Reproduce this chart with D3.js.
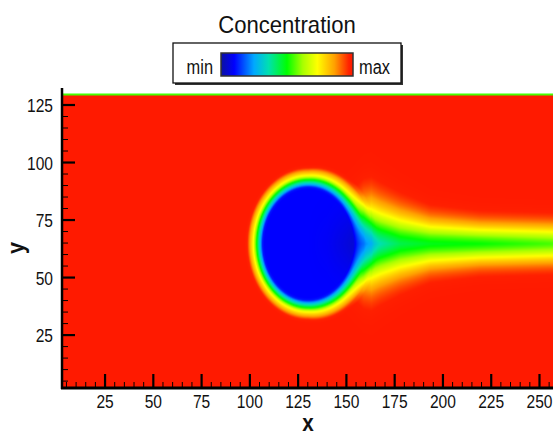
<!DOCTYPE html>
<html>
<head>
<meta charset="utf-8">
<script src="https://cdn.jsdelivr.net/npm/d3@7"></script>
<style>
  html, body { margin: 0; padding: 0; background: #fff; }
  svg { display: block; }
  text { font-family: "Liberation Sans", Arial, sans-serif; fill: #111; }
</style>
</head>
<body>
<svg id="chart" width="555" height="432"></svg>
<script>
// ---------------- data ----------------
const xTicks = [25, 50, 75, 100, 125, 150, 175, 200, 225, 250];
const yTicks = [25, 50, 75, 100, 125];
const xDomain = [2.7, 257];
const yDomain = [2, 130];
const xLabel = "x";
const yLabel = "y";
const legendTitle = "Concentration";
const legendLabels = ["min", "max"];

// droplet (min concentration) geometry, data units
const dropletCenter = [130.2, 64.7];
const dropletRadii = [23.6, 24.6];
const ringRearWidening = 0.35;

// concentration vs distance outside the droplet edge (data units)
const ringDistance = [-1, 0, 1.4, 3.1, 4.8, 6.6, 8, 9.5];
const ringConc     = [0.1, 0.12, 0.3, 0.5, 0.72, 0.85, 0.96, 1.0];

// wake behind the droplet: centre-line concentration and spread along x
const wakeX      = [130, 140, 150, 159, 163, 167.7, 178, 193.6, 219, 257];
const wakeCenter = [1.0, 0.92, 0.65, 0.33, 0.3, 0.36, 0.44, 0.48, 0.5, 0.55];
const wakeSpread = [1.7, 1.7, 1.8, 2.15, 2.2, 2.05, 1.75, 1.35, 1.15, 1.1];

// top wall film
const topFilmY = 129.1;
const topFilmConc = 0.55;

// colour map (Tecplot-like rainbow)
const cmapStops  = [0.0, 0.1, 0.25, 0.36, 0.5, 0.62, 0.73, 0.86, 0.97, 1.0];
const cmapColors = ["#0c12a0", "#0000ff", "#00a8ff", "#00e0b0", "#00ff00",
                    "#a8ff00", "#ffff00", "#ffa000", "#ff2000", "#ff1a00"];

// ---------------- layout ----------------
const plot = { left: 62, right: 553, top: 93.5, bottom: 388 };
const svg = d3.select("#chart");

const x = d3.scaleLinear().domain(xDomain).range([plot.left, plot.right]);
const y = d3.scaleLinear().domain(yDomain).range([plot.bottom, plot.top]);

const color = d3.scaleLinear().domain(cmapStops).range(cmapColors)
  .interpolate(d3.interpolateRgb).clamp(true);
const ringScale = d3.scaleLinear().domain(ringDistance).range(ringConc).clamp(true);
const wakeCenterScale = d3.scaleLinear().domain(wakeX).range(wakeCenter).clamp(true);
const wakeSpreadScale = d3.scaleLinear().domain(wakeX).range(wakeSpread).clamp(true);

function concentration(xv, yv) {
  if (yv > topFilmY) return topFilmConc;
  const dx = (xv - dropletCenter[0]) / dropletRadii[0];
  const dy = (yv - dropletCenter[1]) / dropletRadii[1];
  const r = Math.sqrt(dx * dx + dy * dy);
  const cosT = r > 0 ? dx / r : 0;
  let d = (r - 1) * 24;
  if (d > 0) d = d / (1 + ringRearWidening * Math.max(0, cosT));
  let c = ringScale(d);
  if (xv > wakeX[0]) {
    const A = 1 - wakeCenterScale(xv);
    const s = wakeSpreadScale(xv);
    const u = Math.abs(yv - dropletCenter[1]) / s;
    const q = 0.04 * u + 0.0148 * u * u;
    const cw = 1 - A * Math.exp(-q);
    c = c * cw;
  }
  return c;
}

// ---------------- field raster ----------------
const W = Math.round(plot.right - plot.left);
const H = Math.round(plot.bottom - plot.top);
const canvas = document.createElement("canvas");
canvas.width = W; canvas.height = H;
const ctx = canvas.getContext("2d");
const img = ctx.createImageData(W, H);
for (let j = 0; j < H; j++) {
  const yv = y.invert(plot.top + j + 0.5);
  for (let i = 0; i < W; i++) {
    const xv = x.invert(plot.left + i + 0.5);
    const col = d3.rgb(color(concentration(xv, yv)));
    const k = (j * W + i) * 4;
    img.data[k] = col.r; img.data[k + 1] = col.g; img.data[k + 2] = col.b; img.data[k + 3] = 255;
  }
}
ctx.putImageData(img, 0, 0);
svg.append("image")
  .attr("x", plot.left).attr("y", plot.top)
  .attr("width", W).attr("height", H)
  .attr("preserveAspectRatio", "none")
  .attr("href", canvas.toDataURL());

// ---------------- axes ----------------
const xMinor = d3.range(5, xDomain[1], 5).filter(v => v > xDomain[0] && !xTicks.includes(v));
const yMinor = d3.range(5, yDomain[1], 5).filter(v => v > yDomain[0] && !yTicks.includes(v));

const axG = svg.append("g");
axG.selectAll(".xm").data(xMinor).join("line")
  .attr("x1", d => x(d)).attr("x2", d => x(d))
  .attr("y1", plot.bottom).attr("y2", plot.bottom - 6)
  .attr("stroke", "#000").attr("stroke-width", 1);
axG.selectAll(".ym").data(yMinor).join("line")
  .attr("y1", d => y(d)).attr("y2", d => y(d))
  .attr("x1", plot.left).attr("x2", plot.left + 6)
  .attr("stroke", "#000").attr("stroke-width", 1);
axG.selectAll(".xM").data(xTicks).join("line")
  .attr("x1", d => x(d)).attr("x2", d => x(d))
  .attr("y1", plot.bottom).attr("y2", plot.bottom - 14)
  .attr("stroke", "#000").attr("stroke-width", 2.2);
axG.selectAll(".yM").data(yTicks).join("line")
  .attr("y1", d => y(d)).attr("y2", d => y(d))
  .attr("x1", plot.left).attr("x2", plot.left + 13)
  .attr("stroke", "#000").attr("stroke-width", 2.2);
axG.append("line").attr("x1", plot.left).attr("x2", plot.left)
  .attr("y1", 88).attr("y2", plot.bottom + 1)
  .attr("stroke", "#000").attr("stroke-width", 2.5);
axG.append("line").attr("x1", plot.left - 1).attr("x2", plot.right)
  .attr("y1", plot.bottom).attr("y2", plot.bottom)
  .attr("stroke", "#000").attr("stroke-width", 3);

const narrow = [];
axG.selectAll(".xl").data(xTicks).join("text")
  .attr("x", d => x(d)).attr("y", 408)
  .attr("text-anchor", "middle").attr("font-size", 19)
  .text(d => d).each(function () { narrow.push([this, 0.82]); });
axG.selectAll(".yl").data(yTicks).join("text")
  .attr("x", 53).attr("y", d => y(d) + 7)
  .attr("text-anchor", "end").attr("font-size", 19)
  .text(d => d).each(function () { narrow.push([this, 0.82]); });

const xt = svg.append("text").attr("x", 308).attr("y", 431)
  .attr("text-anchor", "middle").attr("font-size", 23).attr("font-weight", "bold")
  .text(xLabel);
narrow.push([xt.node(), 0.9]);
const yt = svg.append("text").attr("transform", "translate(24,248) rotate(-90)")
  .attr("text-anchor", "middle").attr("font-size", 24).attr("font-weight", "bold")
  .text(yLabel);
narrow.push([yt.node(), 0.9]);

// ---------------- legend ----------------
const lg = svg.append("g");
const tt = lg.append("text").attr("x", 287).attr("y", 33)
  .attr("text-anchor", "middle").attr("font-size", 24).text(legendTitle);
narrow.push([tt.node(), 0.92]);
lg.append("rect").attr("x", 175).attr("y", 45).attr("width", 228).attr("height", 40)
  .attr("fill", "#333");
lg.append("rect").attr("x", 173).attr("y", 43).attr("width", 228).attr("height", 40)
  .attr("fill", "#fff").attr("stroke", "#111").attr("stroke-width", 1.3);
const defs = svg.append("defs");
const grad = defs.append("linearGradient").attr("id", "cbar")
  .attr("x1", "0%").attr("x2", "100%").attr("y1", "0%").attr("y2", "0%");
grad.selectAll("stop").data(cmapStops).join("stop")
  .attr("offset", d => (d * 100) + "%")
  .attr("stop-color", (d, i) => cmapColors[i]);
lg.append("rect").attr("x", 221).attr("y", 53).attr("width", 132).attr("height", 23)
  .attr("fill", "url(#cbar)").attr("stroke", "#333").attr("stroke-width", 1.5);
const tmin = lg.append("text").attr("x", 213).attr("y", 74).attr("text-anchor", "end")
  .attr("font-size", 20).text(legendLabels[0]);
const tmax = lg.append("text").attr("x", 359).attr("y", 74).attr("text-anchor", "start")
  .attr("font-size", 20).text(legendLabels[1]);
narrow.push([tmin.node(), 0.82], [tmax.node(), 0.82]);

narrow.forEach(([node, f]) => {
  const len = node.getComputedTextLength();
  node.setAttribute("textLength", (len * f).toFixed(1));
  node.setAttribute("lengthAdjust", "spacingAndGlyphs");
});
</script>
</body>
</html>
